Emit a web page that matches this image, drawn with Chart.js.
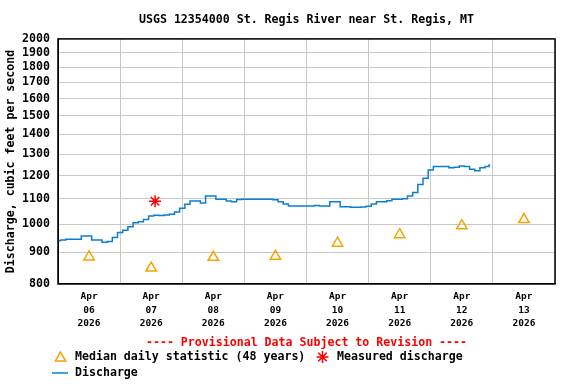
<!DOCTYPE html>
<html>
<head>
<meta charset="utf-8">
<script src="https://cdn.jsdelivr.net/npm/chart.js"></script>
<style>
  body { margin: 0; background: #fff; }
  #wrap { width: 576px; height: 384px; }
</style>
</head>
<body>
<div id="wrap"><canvas id="hydrograph" width="576" height="384"></canvas></div>
<script>
// discharge in cfs, one reading every 2 hours starting Apr 06 00:00
const dischargeCfs = [
  940, 943, 946, 946, 946, 957, 957, 943, 943, 935, 938, 952,
  970, 978, 991, 1006, 1010, 1018, 1032, 1034, 1033, 1035, 1038, 1047,
  1062, 1078, 1091, 1091, 1083, 1112, 1112, 1098, 1098, 1091, 1088, 1097,
  1098, 1098, 1098, 1098, 1098, 1098, 1096, 1088, 1079, 1071, 1071, 1071,
  1071, 1071, 1073, 1071, 1071, 1088, 1088, 1068, 1068, 1066, 1066, 1067,
  1070, 1079, 1088, 1088, 1092, 1098, 1098, 1100, 1112, 1126, 1160, 1188,
  1225, 1241, 1241, 1241, 1235, 1238, 1244, 1241, 1229, 1222, 1235, 1241
];
const readingStepHours = 2;
const lastReadingHour = 167;
const lastReadingCfs = 1248;

const dayLabels = ["06", "07", "08", "09", "10", "11", "12", "13"];
const monthLabel = "Apr";
const yearLabel = "2026";
// median daily statistic, plotted at noon of each day
const medianCfs = [885, 849, 884, 887, 932, 962, 995, 1018];
// field measurement, Apr 07 13:30
const measuredHour = [37.5];
const measuredCfs = [1090];

const yTicks = [800, 900, 1000, 1100, 1200, 1300, 1400, 1500, 1600, 1700, 1800, 1900, 2000];

const FONT = "'DejaVu Sans Mono', 'Liberation Mono', monospace";
const BLUE = "#0b7fd1";
const ORANGE = "#f5a300";
const RED = "#ff0000";

let dischargePoints = dischargeCfs.map((v, i) => ({ x: i * readingStepHours, y: v }));
dischargePoints.push({ x: lastReadingHour, y: lastReadingCfs });
let medianPoints = medianCfs.map((v, i) => ({ x: 12 + 24 * i, y: v }));
let measuredPoints = measuredCfs.map((v, i) => ({ x: measuredHour[i], y: v }));

// black box round the plot area
const frame = {
  id: "frame",
  afterDraw(chart) {
    const { ctx, chartArea: a } = chart;
    ctx.save();
    ctx.strokeStyle = "#000";
    ctx.lineWidth = 1.5;
    ctx.strokeRect(a.left, a.top, a.right - a.left, a.bottom - a.top);
    ctx.restore();
  },
};

function marker(ctx, ds, x, y) {
  ctx.save();
  ctx.strokeStyle = ds.borderColor;
  ctx.fillStyle = "rgba(0,0,0,0)";
  ctx.lineWidth = ds.borderWidth;
  Chart.helpers.drawPoint(ctx, { pointStyle: ds.pointStyle, radius: ds.pointRadius, borderWidth: ds.borderWidth, rotation: 0 }, x, y);
  ctx.restore();
}

// legend laid out like the USGS one: two markers on first row, line on second
const usgsLegend = {
  id: "usgsLegend",
  afterDraw(chart) {
    const ctx = chart.ctx;
    const sets = chart.data.datasets;
    const row1 = chart.height - 27;
    const row2 = row1 + 16;
    ctx.save();
    ctx.font = "bold 11.6px " + FONT;
    ctx.fillStyle = "#000";
    ctx.textBaseline = "middle";
    marker(ctx, sets[1], 60.5, row1 + 1);
    ctx.fillText(sets[1].label, 75, row1);
    marker(ctx, sets[2], 322.5, row1);
    ctx.fillText(sets[2].label, 337, row1);
    ctx.strokeStyle = sets[0].borderColor;
    ctx.lineWidth = sets[0].borderWidth;
    ctx.beginPath();
    ctx.moveTo(52, row2);
    ctx.lineTo(68, row2);
    ctx.stroke();
    ctx.fillText(sets[0].label, 75, row2);
    ctx.restore();
  },
};

new Chart(document.getElementById("hydrograph"), {
  type: "line",
  data: {
    datasets: [
      {
        label: "Discharge",
        data: dischargePoints,
        borderColor: BLUE,
        borderWidth: 1.5,
        pointRadius: 0,
        tension: 0,
        stepped: "middle",
        order: 3,
      },
      {
        label: "Median daily statistic (48 years)",
        data: medianPoints,
        showLine: false,
        pointStyle: "triangle",
        pointRadius: 6,
        borderColor: ORANGE,
        backgroundColor: "rgba(0,0,0,0)",
        borderWidth: 1.5,
        order: 2,
      },
      {
        label: "Measured discharge",
        data: measuredPoints,
        showLine: false,
        pointStyle: "star",
        pointRadius: 6,
        borderColor: RED,
        backgroundColor: RED,
        borderWidth: 1.5,
        order: 1,
      },
    ],
  },
  options: {
    responsive: false,
    animation: false,
    layout: { padding: { top: 0, right: 21, bottom: 31.6, left: 0 } },
    plugins: {
      legend: { display: false },
      tooltip: { enabled: false },
      title: {
        display: true,
        fullSize: false,
        text: "USGS 12354000 St. Regis River near St. Regis, MT",
        color: "#000",
        font: { family: FONT, size: 11.6, weight: "bold", lineHeight: 1.2 },
        padding: { top: 13, bottom: 12 },
      },
      subtitle: {
        display: true,
        position: "bottom",
        fullSize: false,
        weight: 500,
        text: "---- Provisional Data Subject to Revision ----",
        color: RED,
        font: { family: FONT, size: 11.6, weight: "bold", lineHeight: 1.2 },
        padding: { top: 5.5, bottom: 2 },
      },
    },
    scales: {
      x: {
        type: "linear",
        min: 0,
        max: 192,
        afterBuildTicks: (scale) => {
          let t = [];
          for (let h = 0; h <= 192; h += 12) t.push({ value: h });
          scale.ticks = t;
        },
        afterFit: (scale) => {
          scale.height = 47;
        },
        grid: {
          drawTicks: false,
          lineWidth: 1,
          color: (c) => (c.tick && c.tick.value % 24 === 0 ? "#c8c8c8" : "rgba(0,0,0,0)"),
        },
        border: { color: "#000", width: 1 },
        ticks: {
          autoSkip: false,
          maxRotation: 0,
          padding: 6,
          color: "#000",
          font: { family: FONT, size: 9.5, weight: "bold", lineHeight: 1.42 },
          callback: (v) => {
            if (v % 24 !== 12) return "";
            return [monthLabel, dayLabels[(v - 12) / 24], yearLabel];
          },
        },
      },
      y: {
        type: "logarithmic",
        min: 800,
        max: 2000,
        afterBuildTicks: (scale) => {
          scale.ticks = yTicks.map((v) => ({ value: v }));
        },
        afterFit: (scale) => {
          scale.width = 58;
        },
        grid: { drawTicks: false, color: "#c8c8c8", lineWidth: 1 },
        border: { color: "#000", width: 1 },
        ticks: {
          padding: 8,
          color: "#000",
          font: { family: FONT, size: 11.6, weight: "bold" },
          callback: (v) => String(v),
        },
        title: {
          display: true,
          text: "Discharge, cubic feet per second",
          color: "#000",
          font: { family: FONT, size: 11.6, weight: "bold", lineHeight: 1.2 },
          padding: { top: 4, bottom: 0 },
        },
      },
    },
  },
  plugins: [frame, usgsLegend],
});
</script>
</body>
</html>
